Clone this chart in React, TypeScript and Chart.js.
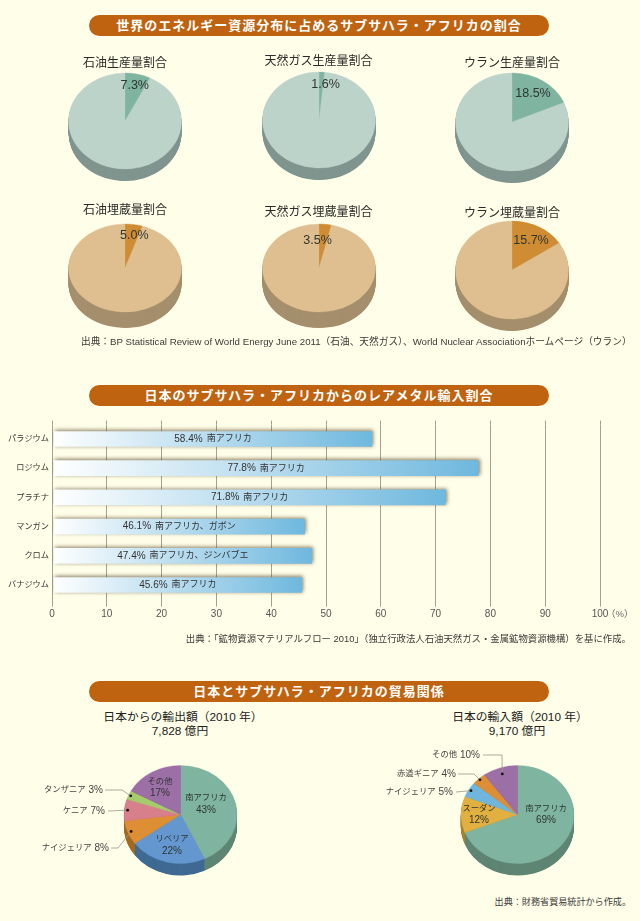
import React, { useEffect, useRef } from "react";
import { Chart, registerables } from "chart.js";

Chart.register(...registerables);

// ---- data ----
const section1Title = "世界のエネルギー資源分布に占めるサブサハラ・アフリカの割合";
const section2Title = "日本のサブサハラ・アフリカからのレアメタル輸入割合";
const section3Title = "日本とサブサハラ・アフリカの貿易関係";

const shareTitles = [
  "石油生産量割合", "天然ガス生産量割合", "ウラン生産量割合",
  "石油埋蔵量割合", "天然ガス埋蔵量割合", "ウラン埋蔵量割合",
];
const shareValues = [7.3, 1.6, 18.5, 5.0, 3.5, 15.7];

const metalNames = ["パラジウム", "ロジウム", "プラチナ", "マンガン", "クロム", "バナジウム"];
const metalShares = [58.4, 77.8, 71.8, 46.1, 47.4, 45.6];
const metalSuppliers = ["南アフリカ", "南アフリカ", "南アフリカ", "南アフリカ、ガボン", "南アフリカ、ジンバブエ", "南アフリカ"];
const axisTicks = [0, 10, 20, 30, 40, 50, 60, 70, 80, 90, 100];

const exportNames = ["南アフリカ", "リベリア", "ナイジェリア", "ケニア", "タンザニア", "その他"];
const exportValues = [43, 22, 8, 7, 3, 17];
const importNames = ["南アフリカ", "スーダン", "ナイジェリア", "赤道ギニア", "その他"];
const importValues = [69, 12, 5, 4, 10];

const source1 = "出典：BP Statistical Review of World Energy June 2011（石油、天然ガス）、World Nuclear Associationホームページ（ウラン）";
const source2 = "出典：「鉱物資源マテリアルフロー 2010」（独立行政法人石油天然ガス・金属鉱物資源機構）を基に作成。";
const source3 = "出典：財務省貿易統計から作成。";

// ---- layout and style ----
const FONT = '"Liberation Sans","Noto Sans CJK JP",sans-serif';
const BG = "#fffee9";
const BANNER = "#bf6310";
const TEAL = "#7fb4a1", TEAL_SIDE = "#5f8574";
const shareStyles = [
  { main: "#bcd3ca", part: TEAL, side: "#80958f" },
  { main: "#dfbf90", part: "#d08c32", side: "#a58f6d" },
];
const exportColors = [TEAL, "#6497cf", "#de8f35", "#d87f8c", "#a6cb6d", "#9c6fa7"];
const exportSides = [TEAL_SIDE, "#3f6a93", "#a3691f", "#a35e68", "#7a9850", "#74507c"];
const importColors = [TEAL, "#e2b040", "#6fb5dc", "#de8f35", "#9c6fa7"];
const importSides = [TEAL_SIDE, "#a8822e", "#5088a8", "#a3691f", "#74507c"];

const sharePies = [
  { cx: 125, cy: 120.5, ry: 48, depth: 12, lx: 134.7, ly: 85, ty: 63 },
  { cx: 318.5, cy: 120, ry: 48, depth: 12, lx: 325, ly: 85, ty: 61 },
  { cx: 512, cy: 121.5, ry: 49, depth: 12, lx: 533, ly: 93.3, ty: 63 },
  { cx: 125, cy: 268, ry: 44, depth: 16, lx: 134.3, ly: 235.7, ty: 210 },
  { cx: 318.5, cy: 268, ry: 44, depth: 16, lx: 317, ly: 240.3, ty: 212 },
  { cx: 512, cy: 270, ry: 49, depth: 12, lx: 531, ly: 240.7, ty: 212.7 },
];

type Inner = { index: number; x: number; y: number };
type Callout = { index: number; x: number; y: number; lineStart: number; bendX?: number; frac: number };

const exportInner: Inner[] = [
  { index: 0, x: 206, y: 804 },
  { index: 1, x: 172, y: 845 },
  { index: 5, x: 160, y: 787.5 },
];
const exportCallouts: Callout[] = [
  { index: 4, x: 103, y: 790, lineStart: 105, bendX: 122, frac: 0.96 },
  { index: 3, x: 105, y: 811, lineStart: 108, frac: 0.94 },
  { index: 2, x: 109, y: 848, lineStart: 111, bendX: 118, frac: 0.94 },
];
const importInner: Inner[] = [
  { index: 0, x: 546, y: 814.5 },
  { index: 1, x: 479, y: 814.5 },
];
const importCallouts: Callout[] = [
  { index: 4, x: 480, y: 755, lineStart: 483, bendX: 502, frac: 0.87 },
  { index: 3, x: 456, y: 774, lineStart: 458, bendX: 474, frac: 0.97 },
  { index: 2, x: 453, y: 792, lineStart: 456, frac: 0.956 },
];

type PieCfg = {
  canvas: HTMLCanvasElement; left: number; top: number; cx: number; cy: number; ry: number; depth: number;
  values: number[]; colors: string[]; sides: string[]; names?: string[];
  percent?: { text: string; x: number; y: number };
  inner?: Inner[]; callouts?: Callout[];
};

const RX = 56.5;

function makePie(c: PieCfg) {
  const k = c.ry / RX;
  const squash = (ctx: CanvasRenderingContext2D, chart: any) => {
    const el = chart.getDatasetMeta(0).data[0];
    ctx.translate(el.x, el.y);
    ctx.scale(1, k);
    ctx.translate(-el.x, -el.y);
  };
  const plugin = {
    id: "pie3d",
    beforeDatasetsDraw(chart: any) {
      const ctx = chart.ctx;
      const arcs = chart.getDatasetMeta(0).data;
      ctx.save();
      squash(ctx, chart);
      for (let d = c.depth; d >= 1; d -= 0.5) {
        arcs.forEach((a: any, i: number) => {
          ctx.fillStyle = c.sides[i];
          ctx.beginPath();
          ctx.moveTo(a.x, a.y + d / k);
          ctx.arc(a.x, a.y + d / k, a.outerRadius, a.startAngle, a.endAngle);
          ctx.closePath();
          ctx.fill();
        });
      }
    },
    afterDatasetsDraw(chart: any) {
      const ctx = chart.ctx;
      ctx.restore();
      const arcs = chart.getDatasetMeta(0).data;
      ctx.textAlign = "center";
      ctx.textBaseline = "middle";
      if (c.percent) {
        ctx.fillStyle = "#2f3533";
        ctx.font = `12.5px ${FONT}`;
        ctx.fillText(c.percent.text, c.percent.x - c.left, c.percent.y - c.top);
      }
      (c.inner || []).forEach((n) => {
        ctx.fillStyle = "#2f3533";
        ctx.font = `8.3px ${FONT}`;
        ctx.fillText(c.names![n.index], n.x - c.left, n.y - c.top - 5.8);
        ctx.font = `10px ${FONT}`;
        ctx.fillText(`${c.values[n.index]}%`, n.x - c.left, n.y - c.top + 5.8);
      });
      (c.callouts || []).forEach((n) => {
        const a = arcs[n.index];
        const mid = (a.startAngle + a.endAngle) / 2;
        const px = a.x + Math.cos(mid) * a.outerRadius * n.frac;
        const py = a.y + Math.sin(mid) * a.outerRadius * n.frac * k;
        const lx = n.x - c.left, ly = n.y - c.top;
        ctx.strokeStyle = "#9a9a8c";
        ctx.lineWidth = 0.8;
        ctx.beginPath();
        ctx.moveTo(n.lineStart - c.left, ly);
        if (n.bendX !== undefined) ctx.lineTo(n.bendX - c.left, ly);
        ctx.lineTo(px, py);
        ctx.stroke();
        ctx.fillStyle = "#111";
        ctx.beginPath();
        ctx.arc(px, py, 1.4, 0, Math.PI * 2);
        ctx.fill();
        ctx.textAlign = "right";
        ctx.fillStyle = "#444";
        ctx.font = `10px ${FONT}`;
        const pct = `${c.values[n.index]}%`;
        ctx.fillText(pct, lx, ly);
        const w = ctx.measureText(pct).width;
        ctx.font = `8.3px ${FONT}`;
        ctx.fillText(c.names![n.index], lx - w - 3, ly);
        ctx.textAlign = "center";
      });
    },
  };
  return new Chart(c.canvas, {
    type: "pie",
    data: {
      labels: c.names || c.values.map(String),
      datasets: [{
        data: c.values, backgroundColor: c.colors, borderColor: c.colors, borderWidth: 0.4, clip: false as any,
      }],
    },
    options: {
      responsive: false, animation: false, radius: RX,
      layout: { padding: 0 },
      plugins: { legend: { display: false }, tooltip: { enabled: false }, title: { display: false } },
    } as any,
    plugins: [plugin],
  });
}

function makeBars(canvas: HTMLCanvasElement) {
  const plugin = {
    id: "barDeco",
    beforeDatasetsDraw(chart: any) {
      const ctx = chart.ctx;
      const x = chart.scales.x;
      ctx.save();
      ctx.strokeStyle = "#a3a192";
      ctx.lineWidth = 1;
      x.ticks.forEach((t: any) => {
        const px = Math.round(x.getPixelForValue(t.value) - 0.5) + 0.5;
        ctx.beginPath();
        ctx.moveTo(px, chart.chartArea.top - 3.8);
        ctx.lineTo(px, chart.chartArea.top);
        ctx.stroke();
      });
      ctx.restore();
      ctx.save();
      ctx.shadowColor = "rgba(95,80,50,0.75)";
      ctx.shadowBlur = 4;
      ctx.shadowOffsetX = 1;
      ctx.shadowOffsetY = -1;
    },
    afterDatasetsDraw(chart: any) {
      const ctx = chart.ctx;
      ctx.restore();
      ctx.save();
      ctx.fillStyle = "#333";
      ctx.textAlign = "left";
      ctx.textBaseline = "middle";
      chart.getDatasetMeta(0).data.forEach((b: any, i: number) => {
        const pct = `${metalShares[i]}%`;
        const name = metalSuppliers[i];
        ctx.font = `10px ${FONT}`;
        const w1 = ctx.measureText(pct).width;
        ctx.font = `9px ${FONT}`;
        const w2 = ctx.measureText(name).width;
        const start = (b.base + b.x) / 2 - (w1 + 4 + w2) / 2;
        ctx.fillText(name, start + w1 + 4, b.y);
        ctx.font = `10px ${FONT}`;
        ctx.fillText(pct, start, b.y);
      });
      ctx.restore();
    },
  };
  return new Chart(canvas, {
    type: "bar",
    data: {
      labels: metalNames,
      datasets: [{
        data: metalShares,
        base: 0.35,
        barThickness: 15,
        borderWidth: 0,
        backgroundColor: (ctx: any) => {
          const i = ctx.dataIndex;
          if (i === undefined) return "#6fb8de";
          const x = ctx.chart.scales.x;
          const x0 = x ? x.getPixelForValue(0) : NaN;
          const x1 = x ? x.getPixelForValue(metalShares[i]) : NaN;
          if (!Number.isFinite(x0) || !Number.isFinite(x1)) return "#6fb8de";
          const g = ctx.chart.ctx.createLinearGradient(x0, 0, x1, 0);
          g.addColorStop(0, "#ffffff");
          g.addColorStop(1, "#6fb8de");
          return g;
        },
      }],
    },
    options: {
      indexAxis: "y", responsive: false, animation: false,
      layout: { padding: { top: 14.4, right: 40, left: 0, bottom: 0 } },
      plugins: { legend: { display: false }, tooltip: { enabled: false } },
      scales: {
        x: {
          min: 0, max: 100,
          afterBuildTicks: (s: any) => { s.ticks = axisTicks.map((value) => ({ value })); },
          afterFit: (s: any) => { s.height = 35.4; },
          border: { display: false },
          grid: { color: "#a3a192", lineWidth: 1, tickLength: 7, drawOnChartArea: true, drawTicks: true },
          ticks: { color: "#555", font: { family: FONT, size: 10 }, padding: 2, maxRotation: 0, autoSkip: false },
        },
        y: {
          afterFit: (s: any) => { s.width = 52; },
          border: { display: false },
          grid: { display: false, drawTicks: false },
          ticks: { color: "#333", font: { family: FONT, size: 8.2 }, padding: 3 },
        },
      },
    } as any,
    plugins: [plugin],
  });
}

function Text(p: { x: number; y: number; size: number; color?: string; weight?: number; spacing?: number; align?: "center" | "left" | "right"; children: React.ReactNode }) {
  const align = p.align || "center";
  const tx = align === "center" ? "-50%" : align === "right" ? "-100%" : "0";
  return (
    <div style={{
      position: "absolute", left: p.x, top: p.y, transform: `translate(${tx},-50%)`, whiteSpace: "nowrap", lineHeight: 1,
      fontFamily: FONT, fontSize: p.size, color: p.color || "#2b2b2b", fontWeight: p.weight || 400, letterSpacing: p.spacing || 0,
    }}>{p.children}</div>
  );
}

function Banner(p: { top: number; text: string }) {
  return (
    <div style={{
      position: "absolute", left: 89, top: p.top, width: 460, height: 21, borderRadius: 10.5, background: BANNER,
      color: "#fff", fontFamily: FONT, fontWeight: 700, fontSize: 13, letterSpacing: 1, lineHeight: "21px", textAlign: "center", whiteSpace: "nowrap",
    }}>{p.text}</div>
  );
}

export default function App() {
  const shareRefs = useRef<(HTMLCanvasElement | null)[]>([]);
  const barRef = useRef<HTMLCanvasElement>(null);
  const expRef = useRef<HTMLCanvasElement>(null);
  const impRef = useRef<HTMLCanvasElement>(null);

  useEffect(() => {
    const charts: Chart[] = [];
    sharePies.forEach((p, i) => {
      const style = shareStyles[i < 3 ? 0 : 1];
      charts.push(makePie({
        canvas: shareRefs.current[i]!, left: p.cx - 75, top: p.cy - 75, cx: p.cx, cy: p.cy, ry: p.ry, depth: p.depth,
        values: [shareValues[i], +(100 - shareValues[i]).toFixed(1)],
        colors: [style.part, style.main], sides: [style.side, style.side],
        percent: { text: `${shareValues[i].toFixed(1)}%`, x: p.lx, y: p.ly },
      }));
    });
    charts.push(makeBars(barRef.current!));
    charts.push(makePie({
      canvas: expRef.current!, left: 30, top: 740, cx: 180.5, cy: 814.5, ry: 49, depth: 12,
      values: exportValues, colors: exportColors, sides: exportSides, names: exportNames,
      inner: exportInner, callouts: exportCallouts,
    }));
    charts.push(makePie({
      canvas: impRef.current!, left: 380, top: 740, cx: 517.5, cy: 814.5, ry: 49, depth: 12,
      values: importValues, colors: importColors, sides: importSides, names: importNames,
      inner: importInner, callouts: importCallouts,
    }));
    return () => charts.forEach((c) => c.destroy());
  }, []);

  const abs = (left: number, top: number): React.CSSProperties => ({ position: "absolute", left, top });

  return (
    <div style={{ position: "absolute", left: 0, top: 0, width: 640, height: 921, overflow: "hidden", background: BG }}>
      <Banner top={15} text={section1Title} />
      <Banner top={384.5} text={section2Title} />
      <Banner top={681} text={section3Title} />

      {sharePies.map((p, i) => (
        <canvas key={i} ref={(el) => { shareRefs.current[i] = el; }} width={150} height={150} style={abs(p.cx - 75, p.cy - 75)} />
      ))}
      {sharePies.map((p, i) => (
        <Text key={i} x={p.cx} y={p.ty} size={12} color="#2a2a28">{shareTitles[i]}</Text>
      ))}
      <Text x={81} y={342} size={9.7} align="left" color="#3a3a38">{source1}</Text>

      <canvas ref={barRef} width={640} height={225} style={abs(0, 410)} />
      <Text x={606} y={614} size={9.5} align="left" color="#666">（%）</Text>
      <Text x={631} y={639} size={9.4} align="right" color="#3a3a38">{source2}</Text>

      <Text x={183} y={718} size={11.8} color="#222">日本からの輸出額（2010 年）</Text>
      <Text x={180} y={731.5} size={11.8} color="#222">7,828 億円</Text>
      <Text x={520} y={718} size={11.8} color="#222">日本の輸入額（2010 年）</Text>
      <Text x={517} y={731.5} size={11.8} color="#222">9,170 億円</Text>

      <canvas ref={expRef} width={301} height={149} style={abs(30, 740)} />
      <canvas ref={impRef} width={275} height={149} style={abs(380, 740)} />
      <Text x={631} y={903} size={9.1} align="right" color="#3a3a38">{source3}</Text>
    </div>
  );
}
